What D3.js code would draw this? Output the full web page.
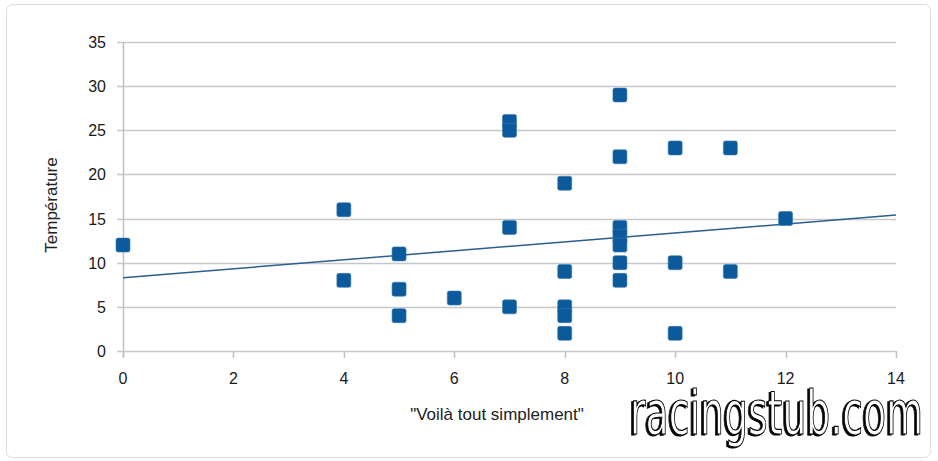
<!DOCTYPE html>
<html><head><meta charset="utf-8">
<script src="https://cdn.jsdelivr.net/npm/d3@7"></script>
<style>body{margin:0;background:#fff;}svg{display:block;}</style>
</head><body>
<script>
const xValues = [0, 4, 4, 5, 5, 5, 6, 7, 7, 7, 7, 8, 8, 8, 8, 8, 9, 9, 9, 9, 9, 9, 9, 10, 10, 10, 11, 11, 12];
const yValues = [12, 16, 8, 11, 7, 4, 6, 26, 25, 14, 5, 19, 9, 5, 4, 2, 29, 22, 14, 13, 12, 10, 8, 23, 10, 2, 23, 9, 15];
const trendX = [0, 14];
const trendY = [8.3, 15.4];
const xTicks = [0, 2, 4, 6, 8, 10, 12, 14];
const yTicks = [0, 5, 10, 15, 20, 25, 30, 35];
const xTitle = '"Voilà tout simplement"';
const yTitle = "Température";
const watermark = "racingstub.com";

const W = 938, H = 461;
const svg = d3.select("body").append("svg").attr("width", W).attr("height", H);

svg.append("rect").attr("x", 6.5).attr("y", 4.5).attr("width", 924).attr("height", 453)
  .attr("rx", 6).attr("fill", "#fff").attr("stroke", "#dcdcdc");

const x = d3.scaleLinear().domain([0, 14]).range([123, 896]);
const y = d3.scaleLinear().domain([0, 35]).range([351, 42]);

// gridlines
svg.append("g").selectAll("line").data(yTicks).join("line")
  .attr("x1", 117).attr("x2", 896)
  .attr("y1", d => Math.round(y(d)) + 0.5).attr("y2", d => Math.round(y(d)) + 0.5)
  .attr("stroke", "#c8c8c8").attr("stroke-width", 1.5);

// y axis line
svg.append("line").attr("x1", 123.5).attr("x2", 123.5).attr("y1", y(35)).attr("y2", 357)
  .attr("stroke", "#c0c0c0").attr("stroke-width", 1.5);

// x ticks
svg.append("g").selectAll("line").data(xTicks).join("line")
  .attr("x1", d => Math.round(x(d)) + 0.5).attr("x2", d => Math.round(x(d)) + 0.5)
  .attr("y1", 351).attr("y2", 358)
  .attr("stroke", "#c0c0c0").attr("stroke-width", 1.5);

const font = "'Liberation Sans', Arial, sans-serif";

svg.append("g").selectAll("text").data(yTicks).join("text")
  .attr("x", 106).attr("y", d => y(d) + 6)
  .attr("text-anchor", "end").attr("font-family", font).attr("font-size", 16)
  .attr("fill", "#1a1a1a").text(d => d);

svg.append("g").selectAll("text").data(xTicks).join("text")
  .attr("x", d => x(d)).attr("y", 384)
  .attr("text-anchor", "middle").attr("font-family", font).attr("font-size", 16)
  .attr("fill", "#1a1a1a").text(d => d);

svg.append("text").attr("transform", "translate(57,205) rotate(-90)")
  .attr("text-anchor", "middle").attr("font-family", font).attr("font-size", 17)
  .attr("fill", "#222").text(yTitle);

svg.append("text").attr("x", 497).attr("y", 420)
  .attr("text-anchor", "middle").attr("font-family", font).attr("font-size", 17)
  .attr("fill", "#222").text(xTitle);

// trend line
svg.append("line")
  .attr("x1", x(trendX[0])).attr("y1", y(trendY[0]))
  .attr("x2", x(trendX[1])).attr("y2", y(trendY[1]))
  .attr("stroke", "#2a5f8f").attr("stroke-width", 1.5);

// markers
const s = 14;
svg.append("g").selectAll("rect").data(xValues.map((v, i) => [v, yValues[i]])).join("rect")
  .attr("x", d => x(d[0]) - s / 2).attr("y", d => y(d[1]) - s / 2)
  .attr("width", s).attr("height", s).attr("rx", 2)
  .attr("fill", "#0b5a9c").attr("stroke", "#3a78b0").attr("stroke-width", 0.6);

// watermark (single text, embossed look)
svg.append("text")
  .attr("transform", "translate(630,434) scale(0.63,1)")
  .attr("font-family", "'DejaVu Sans', sans-serif").attr("font-size", 60)
  .attr("fill", "#fff").attr("stroke", "#000").attr("stroke-width", 1.2)
  .style("filter", "drop-shadow(-3px 1px 0 #000)")
  .text(watermark);
</script>
</body></html>
